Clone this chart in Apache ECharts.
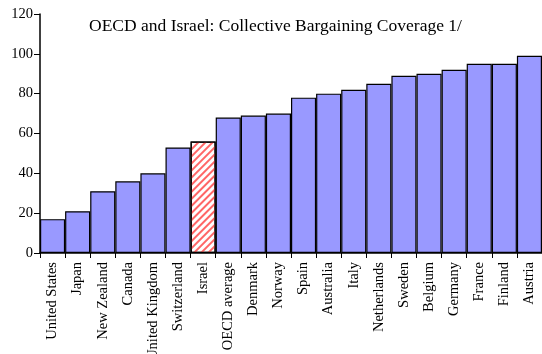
<!DOCTYPE html>
<html style="height: 100%">
   <head>
       <meta charset="utf-8">
       <script src="https://cdn.jsdelivr.net/npm/echarts@6/dist/echarts.min.js"></script>
    <style type="text/css">
      *{
        margin: 0;padding: 0;
      }
    </style>
   </head>
   <body style="height: 100%; margin: 0; background: #fff">
       <div id="container" style="width: 542px; height: 354px"></div>
       <script type="text/javascript">
          var countries = ['United States', 'Japan', 'New Zealand', 'Canada', 'United Kingdom',
              'Switzerland', 'Israel', 'OECD average', 'Denmark', 'Norway', 'Spain', 'Australia',
              'Italy', 'Netherlands', 'Sweden', 'Belgium', 'Germany', 'France', 'Finland', 'Austria'];
          var coverage = [17, 21, 31, 36, 40, 53, 56, 68, 69, 70, 78, 80, 82, 85, 89, 90, 92, 95, 95, 99];
          var highlight = 'Israel';

          var dom = document.getElementById("container");
          var myChart = echarts.init(dom);
          var font = 'Liberation Serif';

          // Israel gets the red hatched fill, everything else plain
          var barData = coverage.map(function (v, i) {
              if (countries[i] !== highlight) return v;
              return {
                  value: v,
                  itemStyle: {
                      color: '#ffffff',
                      decal: {
                          symbol: 'rect',
                          color: '#ff6666',
                          dashArrayX: [1, 0],
                          dashArrayY: [2, 3],
                          rotation: -Math.PI / 4
                      }
                  }
              };
          });

          var option = {
              animation: false,
              backgroundColor: '#fff',
              title: {
                  text: 'OECD and Israel: Collective Bargaining Coverage 1/',
                  left: 84,
                  top: 12,
                  textStyle: {fontFamily: font, fontSize: 17.5, fontWeight: 'normal', color: '#000'}
              },
              // labels may run off the bottom like in the original
              grid: {left: 40, right: 0, top: 14, bottom: 101, outerBoundsMode: 'none', containLabel: false},
              xAxis: {
                  type: 'category',
                  data: countries,
                  axisLine: {lineStyle: {color: '#000', width: 1.5}},
                  axisTick: {show: true, length: 5, lineStyle: {color: '#000'}},
                  axisLabel: {
                      rotate: 90, interval: 0, margin: 9,
                      fontFamily: font, fontSize: 14.5, color: '#000'
                  }
              },
              yAxis: {
                  type: 'value',
                  min: 0, max: 120, interval: 20,
                  splitLine: {show: false},
                  axisLine: {show: true, lineStyle: {color: '#000', width: 1.5}},
                  axisTick: {show: true, length: 6, lineStyle: {color: '#000'}},
                  axisLabel: {fontFamily: font, fontSize: 14.5, color: '#000', margin: 7}
              },
              series: [{
                  type: 'bar',
                  barCategoryGap: 0,
                  data: barData,
                  itemStyle: {color: '#9999ff', borderColor: '#000', borderWidth: 1.2}
              }]
          };

          myChart.setOption(option, true);
       </script>
   </body>
</html>
